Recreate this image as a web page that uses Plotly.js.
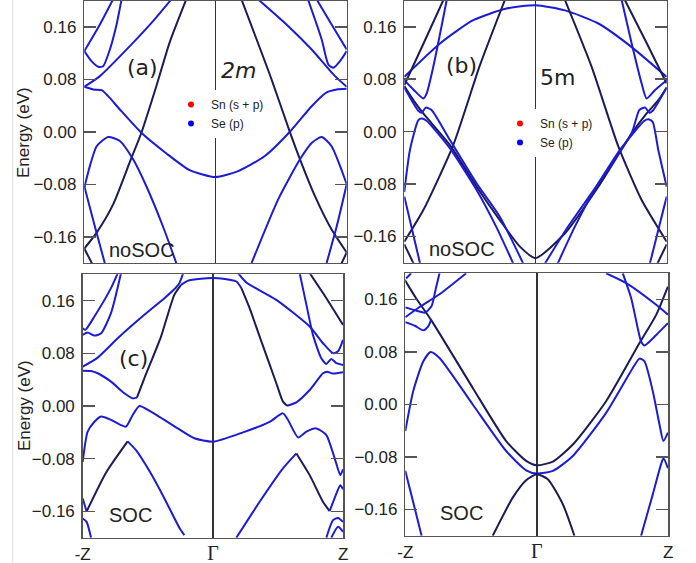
<!DOCTYPE html>
<html>
<head>
<meta charset="utf-8">
<script src="https://cdn.plot.ly/plotly-3.0.1.min.js"></script>
<style>
  html, body { margin: 0; padding: 0; background: #ffffff; }
  #chart { width: 696px; height: 563px; }
</style>
</head>
<body>
<div id="chart"></div>
<script>
// Band energies (eV) along -Z -> Gamma -> Z, k in units of the half path (-1 .. 1)
const kTicks = [-1, 0, 1];
const kTickText = ['-Z', '<span style="font-family:Liberation Serif, DejaVu Serif, serif;font-size:20px">Γ</span>', 'Z'];
const eTicks = [-0.16, -0.08, 0.00, 0.08, 0.16];
const legendNames = ['Sn (s + p)', 'Se (p)'];

// ---- (a) 2m, noSOC ----
const kA1 = [-1.0, -0.907, -0.781, -0.649, -0.565, -0.451, -0.350, -0.223];
const eA1 = [-0.178, -0.154, -0.111, -0.044, -0.0015, 0.0695, 0.136, 0.2017];
const kA2 = [0.198, 0.427, 0.567, 0.644, 0.758, 0.885, 1.0];
const eA2 = [0.2017, 0.0800, -0.0006, -0.042, -0.098, -0.149, -0.184];
const kA3 = [-1, -0.932, -0.868, -0.818, -0.729, -0.565, -0.374, -0.197, 0, 0.173, 0.376, 0.567, 0.733, 0.847, 0.924, 1.0];
const eA3 = [0.0686, 0.0645, 0.0634, 0.0543, 0.034, -0.0015, -0.033, -0.0585, -0.069, -0.060, -0.037, 0.0, 0.039, 0.060, 0.0645, 0.0655];
const kA4 = [-1, -0.957, -0.906, -0.818, -0.729, -0.628, -0.527, -0.401, -0.299];
const eA4 = [-0.085, -0.052, -0.022, -0.008, -0.014, -0.042, -0.083, -0.144, -0.200];
const kA5 = [0.275, 0.478, 0.644, 0.733, 0.809, 0.885, 0.949, 1.0];
const eA5 = [-0.2, -0.103, -0.042, -0.017, -0.008, -0.022, -0.052, -0.080];
const kA6 = [-1, -0.92, -0.844];
const eA6 = [-0.083, -0.144, -0.2];
const kA7 = [1.0, 0.924, 0.847];
const eA7 = [-0.080, -0.144, -0.2];
const kA8 = [-1, -0.93];
const eA8 = [-0.178, -0.205];
const kA9 = [1, 0.95];
const eA9 = [-0.184, -0.205];
const kA10 = [-1, -0.881, -0.653, -0.476, -0.337];
const eA10 = [0.0686, 0.0848, 0.1305, 0.1686, 0.2017];
const kA11 = [0.326, 0.555, 0.733, 0.911, 1.0];
const eA11 = [0.2017, 0.161, 0.1255, 0.0848, 0.0686];
const kA12 = [-1, -0.945, -0.894, -0.856, -0.805, -0.754, -0.716];
const eA12 = [0.123, 0.1076, 0.099, 0.100, 0.1255, 0.1636, 0.2017];
const kA13 = [-1, -0.881, -0.781];
const eA13 = [0.123, 0.1636, 0.2017];
const kA14 = [0.705, 0.809, 0.86, 0.898, 0.949, 1.0];
const eA14 = [0.2017, 0.141, 0.1026, 0.0975, 0.1076, 0.123];
const kA15 = [0.771, 0.885, 1.0];
const eA15 = [0.2017, 0.1636, 0.1255];

// ---- (b) 5m, noSOC ----
const kB1 = [-1, -0.728, -0.475, -0.221, 0, 0.225, 0.479, 0.733, 1.0];
const eB1 = [0.0835, 0.1345, 0.170, 0.1878, 0.1928, 0.185, 0.165, 0.129, 0.0835];
const kB2 = [-1, -0.855, -0.627, -0.424, -0.234];
const eB2 = [-0.168, -0.1197, -0.0206, 0.101, 0.2005];
const kB3 = [0.225, 0.428, 0.632, 0.809, 1.0];
const eB3 = [0.2005, 0.0988, -0.023, -0.1044, -0.168];
const kB4 = [-1, -0.931, -0.855, -0.83, -0.779, -0.677];
const eB4 = [0.0785, 0.0643, 0.0506, 0.058, 0.099, 0.2005];
const kB5 = [-1, -0.85, -0.703];
const eB5 = [0.071, 0.136, 0.2005];
const kB6 = [-1, -0.931, -0.855, -0.652, -0.449, -0.272, -0.119, 0, 0.225, 0.479, 0.733, 0.847, 0.936, 1.0];
const eB6 = [0.0694, 0.048, 0.0277, -0.0205, -0.084, -0.135, -0.1755, -0.193, -0.155, -0.084, -0.0028, 0.0277, 0.048, 0.0674];
const kB7 = [-1, -0.893, -0.868, -0.835, -0.791, -0.652, -0.449, -0.272, -0.094];
const eB7 = [0.0674, 0.0318, 0.0288, 0.0369, 0.0328, -0.0129, -0.079, -0.130, -0.201];
const kB8 = [0.073, 0.225, 0.479, 0.733, 0.791, 0.835, 0.868, 0.893, 1.0];
const eB8 = [-0.201, -0.152, -0.079, -0.002, 0.0328, 0.0369, 0.0288, 0.0318, 0.0674];
const kB9 = [-1, -0.957, -0.893, -0.868, -0.83, -0.652, -0.449, -0.30, -0.170];
const eB9 = [-0.092, -0.028, 0.0175, 0.0201, 0.0166, -0.0256, -0.089, -0.145, -0.201];
const kB10 = [0.170, 0.30, 0.449, 0.652, 0.83, 0.86, 0.893, 0.936, 1.0];
const eB10 = [-0.201, -0.145, -0.089, -0.0256, 0.0166, 0.0190, 0.0150, -0.028, -0.084];
const kB11 = [-1, -0.88];
const eB11 = [-0.099, -0.201];
const kB12 = [1, 0.872];
const eB12 = [-0.099, -0.201];
const kB13 = [-1, -0.92];
const eB13 = [-0.172, -0.205];
const kB14 = [1, 0.92];
const eB14 = [-0.172, -0.205];
const kB15 = [0.657, 0.733, 0.809, 0.847, 0.91, 1.0];
const eB15 = [0.2005, 0.1345, 0.0735, 0.0506, 0.0633, 0.0785];
const kB16 = [0.682, 0.85, 1.0];
const eB16 = [0.2005, 0.134, 0.0735];

// ---- (c) 2m, SOC ----
const kC1 = [-1, -0.98, -0.91, -0.783, -0.726];
const eC1 = [0.118, 0.1156, 0.136, 0.179, 0.204];
const kC2 = [-1, -0.962, -0.91, -0.86, -0.783, -0.706];
const eC2 = [0.108, 0.1115, 0.107, 0.110, 0.141, 0.2018];
const kC3 = [-1, -0.885, -0.731, -0.527, -0.373, -0.284, -0.258, -0.224];
const eC3 = [0.0598, 0.0735, 0.1029, 0.1384, 0.1637, 0.18, 0.1866, 0.2043];
const kC4 = [-1, -0.936, -0.885, -0.783, -0.68, -0.616, -0.584];
const eC4 = [0.0537, 0.0532, 0.0497, 0.037, 0.0193, 0.0116, 0.0127];
const kC5 = [-0.584, -0.527, -0.399, -0.297, -0.245];
const eC5 = [0.0127, 0.042, 0.1054, 0.1688, 0.184];
const kC6 = [-0.245, -0.194, -0.092, 0, 0.077, 0.179, 0.218];
const eC6 = [0.184, 0.1901, 0.1932, 0.1942, 0.1932, 0.1891, 0.179];
const kC7 = [0.218, 0.281, 0.358, 0.486, 0.537, 0.568];
const eC7 = [0.179, 0.1485, 0.1054, 0.0345, 0.0066, 0.0005];
const kC8 = [0.568, 0.640, 0.742, 0.844, 0.875, 0.921, 0.998];
const eC8 = [0.0005, 0.0056, 0.0243, 0.0497, 0.0522, 0.0492, 0.0512];
const kC9 = [-1, -0.962, -0.91, -0.86, -0.783, -0.706, -0.668, -0.616, -0.565, -0.476, -0.271, -0.143, 0, 0.23, 0.435, 0.537, 0.576, 0.653, 0.717, 0.793, 0.870, 0.934, 0.977, 0.998];
const eC9 = [-0.0847, -0.039, -0.024, -0.016, -0.021, -0.029, -0.0314, -0.0137, 0.0, -0.0086, -0.034, -0.049, -0.0543, -0.040, -0.024, -0.0112, -0.0213, -0.0477, -0.039, -0.034, -0.0441, -0.0796, -0.105, -0.096];
const kC10 = [-0.97, -0.82, -0.655];
const eC10 = [-0.1602, -0.1009, -0.0537];
const kC11 = [-0.655, -0.591, -0.484, -0.373, -0.255, -0.220];
const eC11 = [-0.0537, -0.067, -0.100, -0.1404, -0.186, -0.196];
const kC12 = [-1, -0.97];
const eC12 = [-0.1404, -0.1602];
const kC13 = [-1, -0.97, -0.936];
const eC13 = [-0.1709, -0.176, -0.2];
const kC14 = [0.192, 0.256, 0.486, 0.742, 0.844, 0.921, 0.96, 0.998];
const eC14 = [0.2018, 0.1876, 0.1612, 0.1207, 0.0953, 0.0801, 0.083, 0.1004];
const kC15 = [0.665, 0.717, 0.767, 0.831, 0.870, 0.908, 0.947, 0.998];
const eC15 = [0.2018, 0.1536, 0.108, 0.0725, 0.0639, 0.0715, 0.065, 0.0623];
const kC16 = [0.742, 0.870, 0.998];
const eC16 = [0.2018, 0.1637, 0.1232];
const kC17 = [0.179, 0.358, 0.537, 0.64];
const eC17 = [-0.2, -0.1455, -0.0948, -0.072];
const kC18 = [0.64, 0.742, 0.844, 0.895];
const eC18 = [-0.072, -0.105, -0.1455, -0.1597];
const kC19 = [0.895, 0.947, 0.977, 0.998];
const eC19 = [-0.1597, -0.133, -0.1202, -0.1263];
const kC20 = [0.87, 0.921, 0.96, 0.998];
const eC20 = [-0.2, -0.1734, -0.170, -0.176];
const kC21 = [0.908, 0.96, 0.998];
const eC21 = [-0.2, -0.1835, -0.191];

// ---- (d) 5m, SOC ----
const kD1 = [-1.004, -0.918, -0.804, -0.487, -0.233, -0.081, 0, 0.122, 0.274, 0.527, 0.781, 0.908, 0.997];
const eD1 = [0.190, 0.162, 0.129, 0.0253, -0.0557, -0.086, -0.0927, -0.087, -0.061, 0.005, 0.0937, 0.1367, 0.1797];
const kD2 = [-1, -0.889, -0.74, -0.537];
const eD2 = [0.133, 0.149, 0.168, 0.2];
const kD3 = [-1, -0.914, -0.85, -0.80, -0.77, -0.74];
const eD3 = [0.148, 0.143, 0.14, 0.15, 0.175, 0.2];
const kD4 = [-1, -0.927, -0.863, -0.826, -0.804];
const eD4 = [0.1256, 0.12, 0.113, 0.119, 0.129];
const kD5 = [-1, -0.94, -0.863, -0.808, -0.74, -0.487, -0.233, -0.081, 0, 0.122, 0.274, 0.527, 0.73, 0.781, 0.819, 0.882, 0.933, 0.963, 0.997];
const eD5 = [-0.0405, 0.0203, 0.0658, 0.08, 0.0709, 0, -0.0709, -0.1003, -0.1053, -0.1013, -0.0785, -0.0127, 0.0557, 0.0699, 0.0658, 0.0203, -0.0304, -0.0557, -0.043];
const kD6 = [-0.335, -0.183, -0.081, 0, 0.084, 0.198, 0.286];
const eD6 = [-0.2, -0.142, -0.1154, -0.1063, -0.1139, -0.152, -0.2];
const kD7 = [-1, -0.876];
const eD7 = [-0.101, -0.2];
const kD8 = [0.793, 0.882, 0.945, 0.963, 0.997];
const eD8 = [-0.2, -0.137, -0.091, -0.082, -0.097];
const kD9 = [0.527, 0.68, 0.908, 0.997];
const eD9 = [0.2, 0.185, 0.152, 0.137];
const kD10 = [0.654, 0.718, 0.768, 0.793, 0.819, 0.908, 0.997];
const eD10 = [0.2, 0.162, 0.116, 0.096, 0.09, 0.106, 0.124];
const kD11 = [-0.994, -0.956];
const eD11 = [0.192, 0.2];

const BLUE = '#1c1cd2';
const NAVY = '#1b1b55';

// [panel, k, E, colour]
const bands = [
  ['a', kA1, eA1, NAVY], ['a', kA2, eA2, NAVY], ['a', kA3, eA3, BLUE], ['a', kA4, eA4, BLUE],
  ['a', kA5, eA5, BLUE], ['a', kA6, eA6, BLUE], ['a', kA7, eA7, BLUE], ['a', kA8, eA8, NAVY],
  ['a', kA9, eA9, NAVY], ['a', kA10, eA10, BLUE], ['a', kA11, eA11, BLUE], ['a', kA12, eA12, BLUE],
  ['a', kA13, eA13, BLUE], ['a', kA14, eA14, BLUE], ['a', kA15, eA15, BLUE],
  ['b', kB1, eB1, BLUE], ['b', kB2, eB2, NAVY], ['b', kB3, eB3, NAVY], ['b', kB4, eB4, BLUE],
  ['b', kB5, eB5, NAVY], ['b', kB6, eB6, NAVY], ['b', kB7, eB7, BLUE], ['b', kB8, eB8, BLUE],
  ['b', kB9, eB9, BLUE], ['b', kB10, eB10, BLUE], ['b', kB11, eB11, BLUE], ['b', kB12, eB12, BLUE],
  ['b', kB13, eB13, NAVY], ['b', kB14, eB14, NAVY], ['b', kB15, eB15, BLUE], ['b', kB16, eB16, NAVY],
  ['c', kC1, eC1, BLUE], ['c', kC2, eC2, BLUE], ['c', kC3, eC3, BLUE], ['c', kC4, eC4, BLUE],
  ['c', kC5, eC5, NAVY], ['c', kC6, eC6, BLUE], ['c', kC7, eC7, NAVY], ['c', kC8, eC8, BLUE],
  ['c', kC9, eC9, BLUE], ['c', kC10, eC10, NAVY], ['c', kC11, eC11, BLUE], ['c', kC12, eC12, BLUE],
  ['c', kC13, eC13, BLUE], ['c', kC14, eC14, BLUE], ['c', kC15, eC15, BLUE], ['c', kC16, eC16, NAVY],
  ['c', kC17, eC17, BLUE], ['c', kC18, eC18, NAVY], ['c', kC19, eC19, BLUE], ['c', kC20, eC20, BLUE],
  ['c', kC21, eC21, BLUE],
  ['d', kD1, eD1, NAVY], ['d', kD2, eD2, BLUE], ['d', kD3, eD3, BLUE], ['d', kD4, eD4, BLUE],
  ['d', kD5, eD5, BLUE], ['d', kD6, eD6, NAVY], ['d', kD7, eD7, BLUE], ['d', kD8, eD8, BLUE],
  ['d', kD9, eD9, BLUE], ['d', kD10, eD10, BLUE], ['d', kD11, eD11, BLUE]
];

const axisOf = { a: ['x', 'y'], b: ['x2', 'y2'], c: ['x3', 'y3'], d: ['x4', 'y4'] };

const traces = bands.map(([p, k, e, col]) => ({
  type: 'scatter', mode: 'lines', x: k, y: e,
  xaxis: axisOf[p][0], yaxis: axisOf[p][1],
  line: { color: col, width: 2, shape: 'spline', smoothing: 0.6 },
  showlegend: false, hoverinfo: 'skip', cliponaxis: true
}));

// projection legends for the top two panels
const legendColors = ['#ff0000', '#0000ff'];
[['legend', 'x', 'y'], ['legend2', 'x2', 'y2']].forEach(([lg, xa, ya]) => {
  legendNames.forEach((name, i) => {
    traces.push({
      type: 'scatter', mode: 'markers', x: [null], y: [null],
      xaxis: xa, yaxis: ya, name: name, legend: lg, showlegend: true,
      marker: { color: legendColors[i], size: 6 }
    });
  });
});

const FRAME = '#555555';
const TXT = '#222222';
const tickFont = { family: 'Liberation Sans, Arial, sans-serif', size: 17, color: TXT };

function xAxis(domain, anchor, bottom) {
  return {
    domain: domain, anchor: anchor, range: [-1, 1], showgrid: false,
    zeroline: true, zerolinecolor: '#333333', zerolinewidth: 1.5,
    showline: true, mirror: true, linecolor: FRAME, linewidth: 1.5,
    ticks: '', tickvals: kTicks, ticktext: kTickText,
    showticklabels: bottom, tickfont: tickFont, fixedrange: true
  };
}
function yAxis(domain, anchor) {
  return {
    domain: domain, anchor: anchor, range: [-0.2, 0.2], showgrid: false, zeroline: false,
    showline: true, mirror: 'ticks', linecolor: FRAME, linewidth: 1.5,
    ticks: 'inside', ticklen: 12, tickwidth: 1.5, tickcolor: FRAME, ticklabelstandoff: 3,
    tickvals: eTicks, tickformat: '.2f', tickfont: tickFont, fixedrange: true
  };
}

const annFont = (size, fam) => ({ family: fam || 'DejaVu Sans, sans-serif', size: size, color: TXT });
const ann = (text, x, y, font, angle) => ({
  text: text, x: x / 696, y: 1 - y / 563, xref: 'paper', yref: 'paper',
  xanchor: 'center', yanchor: 'middle', showarrow: false, font: font, textangle: angle || 0
});
const SANS = 'Liberation Sans, Arial, sans-serif';

const legendStyle = (x, y) => ({
  x: x / 696, y: 1 - y / 563, xanchor: 'left', yanchor: 'top',
  bgcolor: '#ffffff', borderwidth: 0, tracegroupgap: 0,
  font: { family: SANS, size: 12, color: TXT },
  itemclick: false, itemdoubleclick: false
});

const layout = {
  width: 696, height: 563,
  margin: { l: 0, r: 0, t: 0, b: 0 },
  paper_bgcolor: '#ffffff', plot_bgcolor: '#ffffff',
  showlegend: true,
  xaxis: xAxis([0.12112, 0.49813], 'y', false),
  yaxis: yAxis([0.53286, 0.999], 'x'),
  xaxis2: xAxis([0.58089, 0.95790], 'y2', false),
  yaxis2: yAxis([0.53339, 0.999], 'x2'),
  xaxis3: xAxis([0.11882, 0.49325], 'y3', true),
  yaxis3: yAxis([0.04494, 0.51279], 'x3'),
  xaxis4: xAxis([0.58233, 0.96020], 'y4', true),
  yaxis4: yAxis([0.04849, 0.51456], 'x4'),
  legend: legendStyle(171, 90),
  legend2: legendStyle(500, 109),
  annotations: [
    ann('Energy (eV)', 24, 133, annFont(17, SANS), -90),
    ann('Energy (eV)', 24, 406, annFont(17, SANS), -90),
    ann('(a)', 142.5, 67.5, annFont(22)),
    ann('<i>2m</i>', 238.3, 70.8, annFont(22)),
    ann('noSOC', 141.7, 250, annFont(20, SANS)),
    ann('(b)', 461.7, 65.8, annFont(22)),
    ann('5m', 557.5, 77.5, annFont(22)),
    ann('noSOC', 462, 249, annFont(20, SANS)),
    ann('(c)', 133.8, 358.7, annFont(22)),
    ann('SOC', 130.5, 514.5, annFont(20, SANS)),
    ann('SOC', 461.7, 513.3, annFont(20, SANS))
  ],
  shapes: [
    { type: 'line', xref: 'paper', yref: 'paper', x0: 12.7 / 696, x1: 12.7 / 696, y0: 0, y1: 1,
      line: { color: '#dddddd', width: 1 } }
  ]
};

Plotly.newPlot('chart', traces, layout, { staticPlot: true, displayModeBar: false });
</script>
</body>
</html>
